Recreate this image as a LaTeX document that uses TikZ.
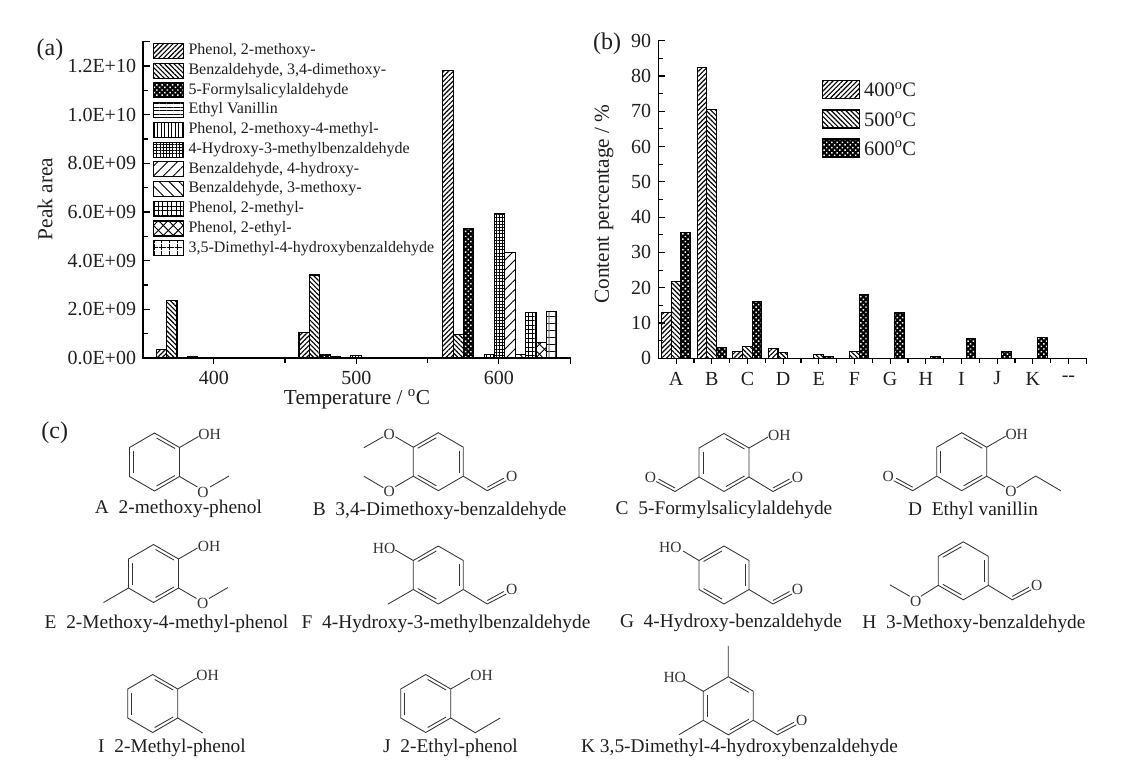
\documentclass[tikz,border=0pt]{standalone}
\usepackage{fontspec}
\setmainfont{Liberation Serif}
\usetikzlibrary{patterns.meta}
\newcommand\fs[1]{\fontsize{#1}{#1}\selectfont}
\tikzset{
  axisline/.style={line width=1.1pt,black,line cap=rect},
  barline/.style={line width=1.1pt,black},
  bondline/.style={line width=0.85pt,black!80},
  txtbase/.style={inner sep=0pt,outer sep=0pt,text=black!88},
  ticktxt/.style={txtbase,font=\fs{20}},
  titletxt/.style={txtbase,font=\fs{21.3}},
  paneltxt/.style={txtbase,font=\fs{24}},
  legtxt/.style={txtbase,font=\fs{16},anchor=west},
  moltxt/.style={txtbase,font=\fs{19.4}},
  atomtxt/.style={txtbase,font=\fs{15.5},text=black!80},
  hA/.style={pattern={Lines[angle=45,distance=3.4pt,line width=1.15pt]}},
  hB/.style={pattern={Lines[angle=-45,distance=3.4pt,line width=1.15pt]}},
  hC/.style={preaction={fill=black},pattern={Dots[radius=1.05pt,distance=3.7pt,angle=45]},pattern color=white},
  hD/.style={pattern={Lines[angle=0,distance=3.5pt,line width=0.85pt]}},
  hE/.style={pattern={Lines[angle=90,distance=3.5pt,line width=0.85pt]}},
  hF/.style={preaction={pattern={Lines[angle=0,distance=3.2pt,line width=0.85pt]}},pattern={Lines[angle=90,distance=3.2pt,line width=0.85pt]}},
  hG/.style={pattern={Lines[angle=45,distance=7pt,line width=0.9pt]}},
  hH/.style={pattern={Lines[angle=-45,distance=7pt,line width=0.9pt]}},
  hI/.style={preaction={pattern={Lines[angle=0,distance=4.4pt,line width=0.85pt]}},pattern={Lines[angle=90,distance=4.4pt,line width=0.85pt]}},
  hJ/.style={preaction={pattern={Lines[angle=45,distance=7pt,line width=0.9pt]}},pattern={Lines[angle=-45,distance=7pt,line width=0.9pt]}},
  hK/.style={preaction={pattern={Lines[angle=0,distance=7.4pt,line width=0.85pt]}},pattern={Lines[angle=90,distance=7.4pt,line width=0.85pt]}},
}
% bars and molecule parts
\newcommand\abar[4]{\draw[barline,#1] ({#2+#3*10.37},#4) rectangle ({#2+(#3+1)*10.37},358);}
\newcommand\bbar[4]{\draw[barline,#1] ({#2-14.6+#3*9.7},{358.3-#4*3.529}) rectangle ({#2-14.6+(#3+1)*9.7},358.3);}
\newcommand\hexring{\draw[bondline] (0,-29)--(25,-14.5)--(25,14.5)--(0,29)--(-25,14.5)--(-25,-14.5)--cycle;}
\newcommand\dTR{\draw[bondline] (2,-24)--(20.5,-13.5);}
\newcommand\dR{\draw[bondline] (21,-11)--(21,11);}
\newcommand\dBR{\draw[bondline] (20.5,13.5)--(2,24);}
\newcommand\dBL{\draw[bondline] (-2,24)--(-20.5,13.5);}
\newcommand\dL{\draw[bondline] (-21,11)--(-21,-11);}
\newcommand\dTL{\draw[bondline] (-20.5,-13.5)--(-2,-24);}
\newcommand\ringA{\hexring\dTR\dBR\dL}
\newcommand\ringB{\hexring\dTL\dR\dBL}
\newcommand\aldR[1]{\draw[bondline] (25,14.5)--(49,29)--(68,19) (49,25.5)--(65.5,16.5);\node[atomtxt] (#1) at (73.5,14.5) {O};}
\newcommand\aldL[1]{\draw[bondline] (-25,14.5)--(-49,29)--(-68,19) (-49,25.5)--(-65.5,16.5);\node[atomtxt] (#1) at (-73.5,14.5) {O};}
\begin{document}
\begin{tikzpicture}[x=1pt,y=-1pt]
\useasboundingbox (0,0) rectangle (1124,765);
% ===== panel (a)
\node[paneltxt] (la) at (50,50) {(a)};
\node[titletxt,rotate=90] (ya) at (45,199) {Peak area};
\node[titletxt] (xa) at (357,399) {Temperature / \textsuperscript{o}C};
\abar{hA}{156.3}{0}{349.3}\abar{hB}{156.3}{1}{300.3}\abar{hC}{156.3}{2}{357.3}\abar{hD}{156.3}{3}{356.3}
\abar{hA}{299}{0}{332.3}\abar{hB}{299}{1}{275}\abar{hC}{299}{2}{354.3}\abar{hD}{299}{3}{356.3}\abar{hE}{299}{4}{357.3}\abar{hF}{299}{5}{355.3}
\abar{hA}{442.7}{0}{70.3}\abar{hB}{442.7}{1}{334.3}\abar{hC}{442.7}{2}{228.3}
\abar{hE}{442.7}{4}{354.3}\abar{hF}{442.7}{5}{213.3}\abar{hG}{442.7}{6}{252.3}\abar{hH}{442.7}{7}{354.3}
\abar{hI}{442.7}{8}{312.3}\abar{hJ}{442.7}{9}{342.3}\abar{hK}{442.7}{10}{311.3}
\draw[axisline] (149,41.7)--(143,41.7)--(143,358)--(570.5,358)--(570.5,363);
\foreach \v/\t [count=\n] in {0/0.0E+00,2/2.0E+09,4/4.0E+09,6/6.0E+09,8/8.0E+09,10/1.0E+10,12/1.2E+10}{
  \draw[axisline] (143,{358-\v*24.33})--(149,{358-\v*24.33});
  \draw[axisline] (143,{358-(\v+1)*24.33})--(147,{358-(\v+1)*24.33});
  \node[ticktxt,anchor=east] (at\n) at (136,{358-\v*24.33}) {\t};
}
\foreach \x/\t [count=\n] in {213.8/400,356.3/500,498.9/600}{
  \draw[axisline] (\x,358)--(\x,363.5);
  \node[ticktxt] (ax\n) at (\x,378) {\t};
}
\foreach \x in {285,427.6}{\draw[axisline] (\x,358)--(\x,362);}
% legend (a)
\foreach \s/\t [count=\n from 0] in {
  hA/{Phenol, 2-methoxy-},
  hB/{Benzaldehyde, 3,4-dimethoxy-},
  hC/{5-Formylsalicylaldehyde},
  hD/{Ethyl Vanillin},
  hE/{Phenol, 2-methoxy-4-methyl-},
  hF/{4-Hydroxy-3-methylbenzaldehyde},
  hG/{Benzaldehyde, 4-hydroxy-},
  hH/{Benzaldehyde, 3-methoxy-},
  hI/{Phenol, 2-methyl-},
  hJ/{Phenol, 2-ethyl-},
  hK/{3,5-Dimethyl-4-hydroxybenzaldehyde}}{
  \draw[barline,\s] (153.5,{43.5+\n*19.72}) rectangle (183.5,{58.5+\n*19.72});
  \node[legtxt] (leg\n) at (188.5,{51+\n*19.72}) {\t};
}
% ===== panel (b)
\node[paneltxt] (lb) at (607,43.3) {(b)};
\node[titletxt,rotate=90] (yb) at (604,204) {Content percentage / \%};
\foreach \x/\a/\b/\c in {676/13/21.8/35.7,711.7/82.5/70.6/3,747.3/2/3.4/16,782.9/2.8/1.7/0,818.6/0/1.1/0.6,854.3/0/2/18.2,890/0/0/13,925.6/0/0/0.6,961.3/0/0/5.7,997/0/0/2,1032.6/0/0/5.95}{
  \ifdim\a pt>0pt \bbar{hA}{\x}{0}{\a}\fi
  \ifdim\b pt>0pt \bbar{hB}{\x}{1}{\b}\fi
  \ifdim\c pt>0pt \bbar{hC}{\x}{2}{\c}\fi
}
\draw[axisline] (664.5,40.7)--(658.3,40.7)--(658.3,358.3)--(1086.7,358.3)--(1086.7,363);
\foreach \v in {0,10,...,90}{
  \draw[axisline] (658.3,{358.3-\v*3.529})--(664.5,{358.3-\v*3.529});
  \node[ticktxt,anchor=east] (bt\v) at (651,{358.3-\v*3.529}) {\v};
}
\foreach \v in {5,15,...,85}{\draw[axisline] (658.3,{358.3-\v*3.529})--(662.5,{358.3-\v*3.529});}
\foreach \t [count=\n from 0] in {A,B,C,D,E,F,G,H,I,J,K,-{}-}{
  \pgfmathsetmacro\xx{676.2+\n*35.66}
  \draw[axisline] (\xx,358.3)--(\xx,363.5);
  \draw[axisline] ({\xx+17.83},358.3)--({\xx+17.83},362);
  \node[ticktxt] (bx\n) at (\xx,378.5) {\t};
}
\foreach \s/\t/\y [count=\n] in {hA/400/80.5,hB/500/110,hC/600/139}{
  \draw[barline,\s] (822.5,\y) rectangle (859.5,{\y+18});
  \node[txtbase,font=\fs{20.5},anchor=west] (lg\n) at (864,{\y+9}) {\t\textsuperscript{o}C};
}
% ===== panel (c)
\node[paneltxt] (lc) at (54.7,433) {(c)};
% A
\begin{scope}[shift={(154.5,462)}]\ringA
 \draw[bondline] (25,-14.5)--(44,-25.5) (25,14.5)--(43,25) (55.5,25)--(74.5,14);
 \node[atomtxt] (aOH) at (55,-28) {OH};\node[atomtxt] (aO) at (48.5,30) {O};
\end{scope}
\node[moltxt] (nA) at (178.5,509) {A\ \ 2-methoxy-phenol};
% B
\begin{scope}[shift={(438.3,461.7)}]\ringB\aldR{bO3}
 \draw[bondline] (-25,-14.5)--(-43,-25) (-55,-25)--(-74.5,-14) (-25,14.5)--(-43,25) (-55,26)--(-74.5,14.5);
 \node[atomtxt] (bO1) at (-49,-27.7) {O};\node[atomtxt] (bO2) at (-49,30) {O};
\end{scope}
\node[moltxt] (nB) at (439.7,511) {B\ \ 3,4-Dimethoxy-benzaldehyde};
% C
\begin{scope}[shift={(724,462.5)}]\ringA\aldR{cO1}\aldL{cO2}
 \draw[bondline] (25,-14.5)--(44,-25.5);
 \node[atomtxt] (cOH) at (55.3,-27.5) {OH};
\end{scope}
\node[moltxt] (nC) at (724,509.5) {C\ \ 5-Formylsalicylaldehyde};
% D
\begin{scope}[shift={(961.7,461.7)}]\ringA\aldL{dO1}
 \draw[bondline] (25,-14.5)--(44,-25.5) (25,14.5)--(43,25) (55,26)--(74,14.3)--(99,29);
 \node[atomtxt] (dOH) at (55,-27.7) {OH};\node[atomtxt] (dO) at (49.3,30) {O};
\end{scope}
\node[moltxt] (nD) at (973,511) {D\ \ Ethyl vanillin};
% E
\begin{scope}[shift={(153.5,573.5)}]\ringA
 \draw[bondline] (25,-14.5)--(44,-25.5) (25,14.5)--(43,25) (55.5,25)--(74.5,14) (-25,14.5)--(-50,29);
 \node[atomtxt] (eOH) at (55.5,-27.5) {OH};\node[atomtxt] (eO) at (49.2,29.8) {O};
\end{scope}
\node[moltxt] (nE) at (166.5,624) {E\ \ 2-Methoxy-4-methyl-phenol};
% F
\begin{scope}[shift={(438.3,575)}]\ringB\aldR{fO}
 \draw[bondline] (-25,-14.5)--(-43,-25) (-25,14.5)--(-50.5,29.2);
 \node[atomtxt] (fHO) at (-54.3,-27) {HO};
\end{scope}
\node[moltxt] (nF) at (446,624) {F\ \ 4-Hydroxy-3-methylbenzaldehyde};
% G
\begin{scope}[shift={(724,575)}]\ringB\aldR{gO}
 \draw[bondline] (-25,-14.5)--(-41,-24);
 \node[atomtxt] (gHO) at (-53.7,-27.5) {HO};
\end{scope}
\node[moltxt] (nG) at (731,623) {G\ \ 4-Hydroxy-benzaldehyde};
% H
\begin{scope}[shift={(963.3,570.8)}]\ringB\aldR{hO}
 \draw[bondline] (-25,14.5)--(-42.5,25.5) (-53.5,25.5)--(-73.5,14);
 \node[atomtxt] (hO2) at (-47.7,30.8) {O};
\end{scope}
\node[moltxt] (nH) at (974,624) {H\ \ 3-Methoxy-benzaldehyde};
% I
\begin{scope}[shift={(152.7,703.5)}]\ringA
 \draw[bondline] (25,-14.5)--(44,-25.5) (25,14.5)--(50,29.5);
 \node[atomtxt] (iOH) at (54.8,-27.8) {OH};
\end{scope}
\node[moltxt] (nI) at (172,748) {I\ \ 2-Methyl-phenol};
% J
\begin{scope}[shift={(425.7,703.5)}]\ringA
 \draw[bondline] (25,-14.5)--(44,-25.5) (25,14.5)--(49.5,29.2)--(74.5,14.5);
 \node[atomtxt] (jOH) at (55.8,-27.8) {OH};
\end{scope}
\node[moltxt] (nJ) at (450.5,748) {J\ \ 2-Ethyl-phenol};
% K
\begin{scope}[shift={(728.3,705.8)}]\ringA\aldR{kO}
 \draw[bondline] (0,-29)--(0,-60) (-25,-14.5)--(-44,-25.5) (-25,14.5)--(-49.5,29);
 \node[atomtxt] (kHO) at (-53.6,-28) {HO};
\end{scope}
\node[moltxt] (nK) at (739.5,748) {K 3,5-Dimethyl-4-hydroxybenzaldehyde};
\end{tikzpicture}
\end{document}
